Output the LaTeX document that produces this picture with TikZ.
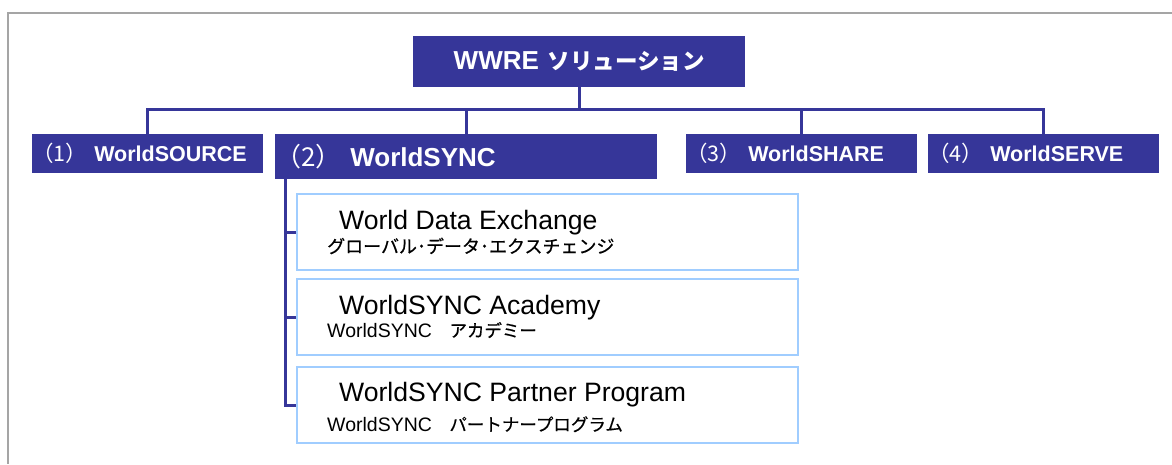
\documentclass[tikz,border=0pt]{standalone}
\usepackage{fontspec}
\setmainfont{Liberation Sans}
\newfontfamily\jp{Noto Sans CJK JP}
\newfontfamily\jpsub{Noto Sans CJK JP}[FakeBold=0.6]
\usepackage{xcolor}
\usepackage{tikz}
\usetikzlibrary{calc, positioning}

\definecolor{navy}{RGB}{54,54,153}
\definecolor{skyline}{RGB}{160,205,255}
\definecolor{framegray}{RGB}{165,165,165}

\begin{document}
\begin{tikzpicture}[x=1pt, y=-1pt,
    head/.style={fill=navy, text=white, font=\bfseries, inner sep=0pt, anchor=north west, align=left},
    subbox/.style={draw=skyline, line width=2pt, anchor=north west, minimum width=501, minimum height=76},
    conn/.style={draw=navy, line width=3pt},
    txt/.style={anchor=base west, inner sep=0pt}]
    \useasboundingbox (0,0) rectangle (1172,464);

    % Outer frame
    \draw[framegray, line width=2pt] (1172,13) -- (8,13) -- (8,464);

    % Top box and the four branches
    \node[head, minimum width=332, minimum height=51, text width=332, align=center,
          font=\bfseries\fontsize{26}{30}\selectfont] (top) at (413,36)
          {WWRE {\jp\fontsize{22.5}{30}\selectfont ソリューション}};
    \node[head, minimum width=231, minimum height=39, text width=231,
          font=\bfseries\fontsize{21.5}{26}\selectfont] (s1) at (32,134) {{\jp\mdseries （1）} WorldSOURCE};
    \node[head, minimum width=382, minimum height=45, text width=382,
          font=\bfseries\fontsize{26}{30}\selectfont] (s2) at (275,134) {{\jp\mdseries （2）} WorldSYNC};
    \node[head, minimum width=231, minimum height=39, text width=231,
          font=\bfseries\fontsize{21.5}{26}\selectfont] (s3) at (686,134) {{\jp\mdseries （3）} WorldSHARE};
    \node[head, minimum width=231, minimum height=39, text width=231,
          font=\bfseries\fontsize{21.5}{26}\selectfont] (s4) at (928,134) {{\jp\mdseries （4）} WorldSERVE};

    % Bus lines
    \draw[conn] (top.south) -- ++(0,22);
    \draw[conn] (s1.north) -- ++(0,-25) -| (s4.north);
    \draw[conn] (s2.north) -- ++(0,-25);
    \draw[conn] (s3.north) -- ++(0,-25);

    % WorldSYNC parts
    \node[subbox] (wde) at (296,193) {};
    \node[subbox] (acad) at (296,278) {};
    \node[subbox] (prog) at (296,366) {};

    \node[txt, font=\fontsize{26.6}{30}\selectfont] (wdeT) at (339,229) {World Data Exchange};
    \node[txt, font=\fontsize{18}{22}\selectfont] (wdeJ) at (327,253) {\jpsub グローバル･データ･エクスチェンジ};
    \node[txt, font=\fontsize{26.6}{30}\selectfont] (acadT) at (339,314) {WorldSYNC Academy};
    \node[txt, font=\fontsize{19.5}{23}\selectfont] (acadJ) at (327,337)
          {WorldSYNC{\jpsub\fontsize{17.5}{22}\selectfont 　アカデミー}};
    \node[txt, font=\fontsize{26.6}{30}\selectfont] (progT) at (339,401) {WorldSYNC Partner Program};
    \node[txt, font=\fontsize{19.5}{23}\selectfont] (progJ) at (327,431)
          {WorldSYNC{\jpsub\fontsize{17.5}{22}\selectfont 　パートナープログラム}};

    % Bracket from WorldSYNC down to its parts
    \draw[conn] ([xshift=10]s2.south west) |- (prog.west);
    \draw[conn] (wde.west) -- ++(-12,0);
    \draw[conn] (acad.west) -- ++(-12,0);
\end{tikzpicture}
\end{document}
